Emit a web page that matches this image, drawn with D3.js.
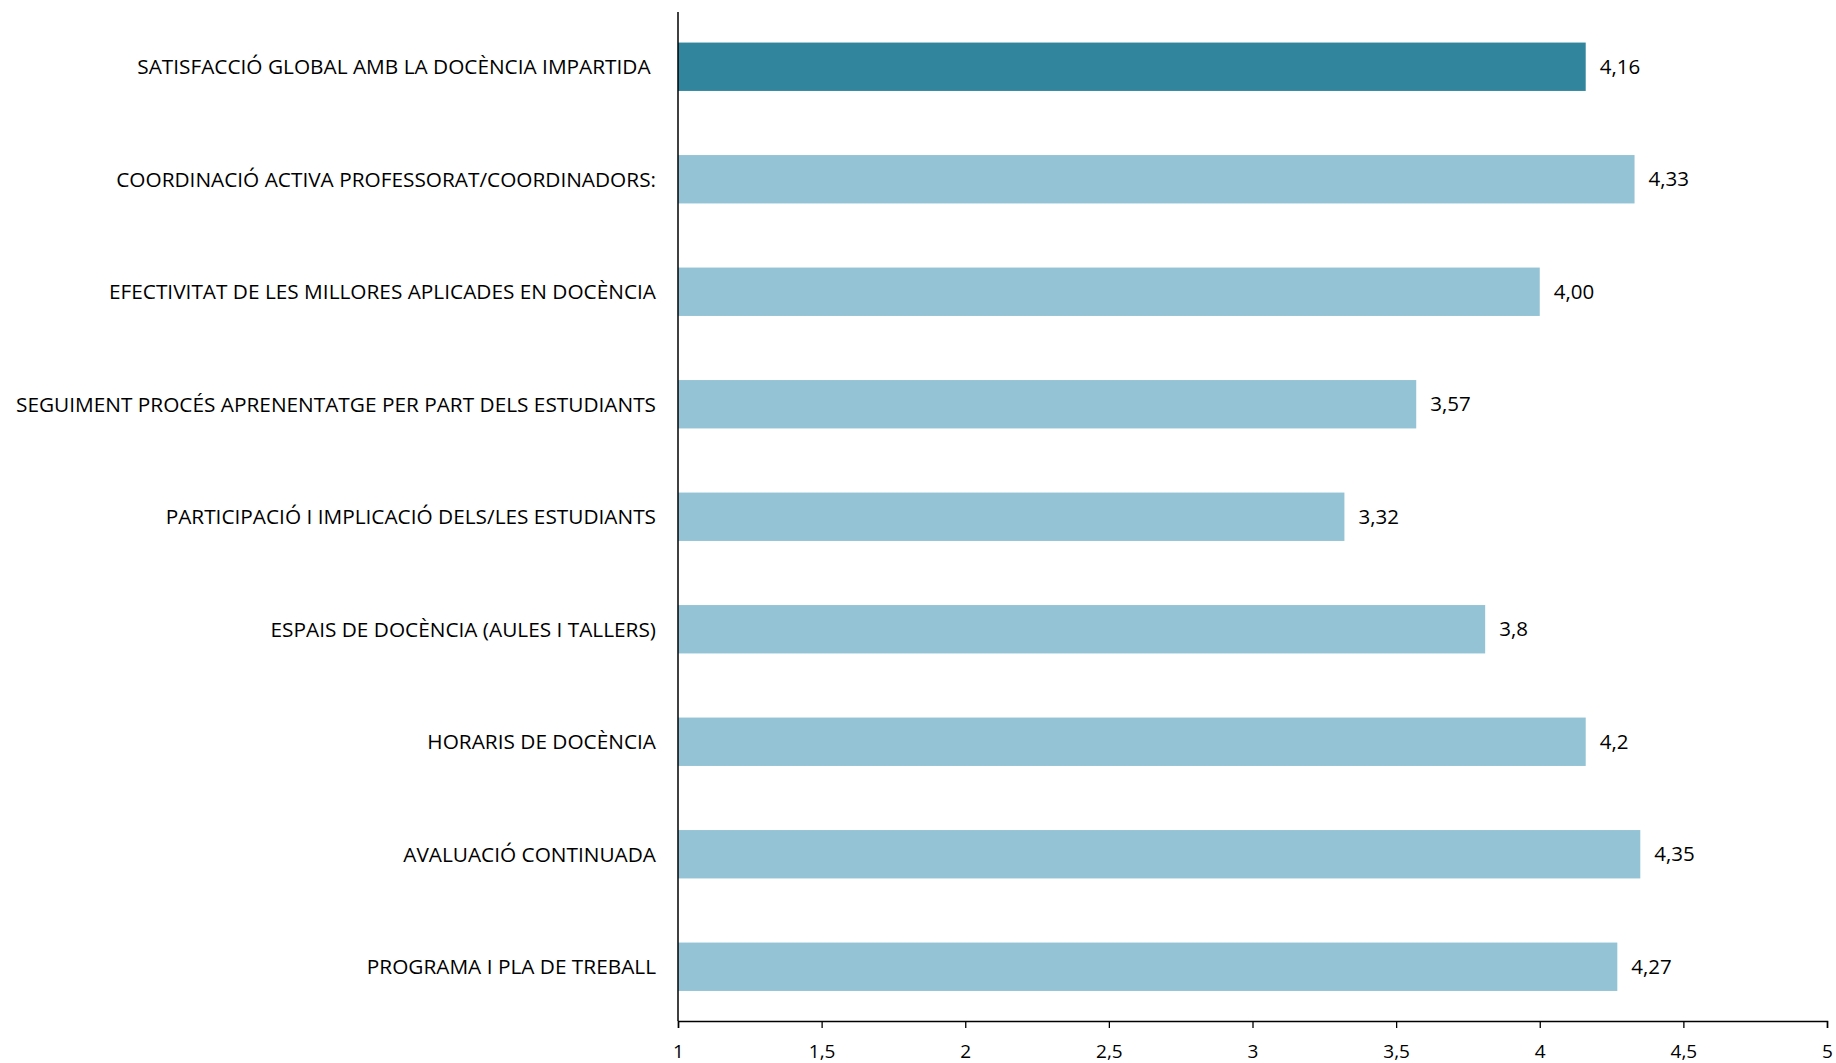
<!DOCTYPE html>
<html>
<head>
<meta charset="utf-8">
<script src="https://cdn.jsdelivr.net/npm/d3@7"></script>
<style>
  body { margin: 0; background: #fff; }
  text { font-family: "Open Sans", sans-serif; fill: #000; }
</style>
</head>
<body>
<div id="chart"></div>
<script>
const categories = [
  "SATISFACCIÓ GLOBAL AMB LA DOCÈNCIA IMPARTIDA ",
  "COORDINACIÓ ACTIVA PROFESSORAT/COORDINADORS:",
  "EFECTIVITAT DE LES MILLORES APLICADES EN DOCÈNCIA",
  "SEGUIMENT PROCÉS APRENENTATGE PER PART DELS ESTUDIANTS",
  "PARTICIPACIÓ I IMPLICACIÓ DELS/LES ESTUDIANTS",
  "ESPAIS DE DOCÈNCIA (AULES I TALLERS)",
  "HORARIS DE DOCÈNCIA",
  "AVALUACIÓ CONTINUADA",
  "PROGRAMA I PLA DE TREBALL"
]
const values = [4.16, 4.33, 4.00, 3.57, 3.32, 3.81, 4.16, 4.35, 4.27]
const valueLabels = ["4,16", "4,33", "4,00", "3,57", "3,32", "3,8", "4,2", "4,35", "4,27"]
const highlight = [true, false, false, false, false, false, false, false, false]
const ticks = [1, 1.5, 2, 2.5, 3, 3.5, 4, 4.5, 5]

const width = 1836
const height = 1063
const margin = {top: 12, bottom: 42, left: 678, right: 9}

const svg = d3.select('#chart')
  .append('svg')
  .attr('width', width)
  .attr('height', height)

const xScale = d3.scaleLinear()
  .domain([1, 5])
  .range([margin.left, width - margin.right])

const yScale = d3.scaleBand()
  .domain(categories)
  .range([10.5, 1023])
  .paddingInner(0.57)
  .paddingOuter(0.285)

const bars = svg.append('g')

bars.selectAll('rect')
  .data(values)
  .enter()
  .append('rect')
  .attr('x', xScale(1))
  .attr('y', (d, i) => yScale(categories[i]))
  .attr('width', d => xScale(d) - xScale(1))
  .attr('height', yScale.bandwidth())
  .attr('fill', (d, i) => highlight[i] ? '#31859c' : '#93c3d5')

bars.selectAll('text')
  .data(values)
  .enter()
  .append('text')
  .attr('x', d => xScale(d) + 14)
  .attr('y', (d, i) => yScale(categories[i]) + yScale.bandwidth() / 2)
  .attr('dy', '0.35em')
  .style('font-size', '20.5px')
  .text((d, i) => valueLabels[i])

// category labels
svg.append('g')
  .selectAll('text')
  .data(categories)
  .enter()
  .append('text')
  .attr('x', margin.left - 22)
  .attr('y', d => yScale(d) + yScale.bandwidth() / 2)
  .attr('dy', '0.35em')
  .attr('text-anchor', 'end')
  .style('font-size', '20.8px')
  .style('white-space', 'pre')
  .text(d => d)

// x axis
const xAxis = svg.append('g')
  .attr('transform', `translate(0,${height - margin.bottom})`)
  .call(d3.axisBottom(xScale)
    .tickValues(ticks)
    .tickSize(7)
    .tickPadding(17)
    .tickFormat(d => String(d).replace('.', ',')))

xAxis.select('.domain').attr('stroke', '#000').attr('stroke-width', 1.5)
xAxis.selectAll('.tick line').attr('stroke', '#000').attr('stroke-width', 1.3)
xAxis.selectAll('.tick text')
  .style('font-size', '19px')
  .style('font-family', '"Open Sans", sans-serif')
  .attr('fill', '#000')

// y axis line
svg.append('line')
  .attr('x1', xScale(1))
  .attr('x2', xScale(1))
  .attr('y1', margin.top)
  .attr('y2', height - margin.bottom)
  .attr('stroke', '#000')
  .attr('stroke-width', 1.5)
</script>
</body>
</html>
